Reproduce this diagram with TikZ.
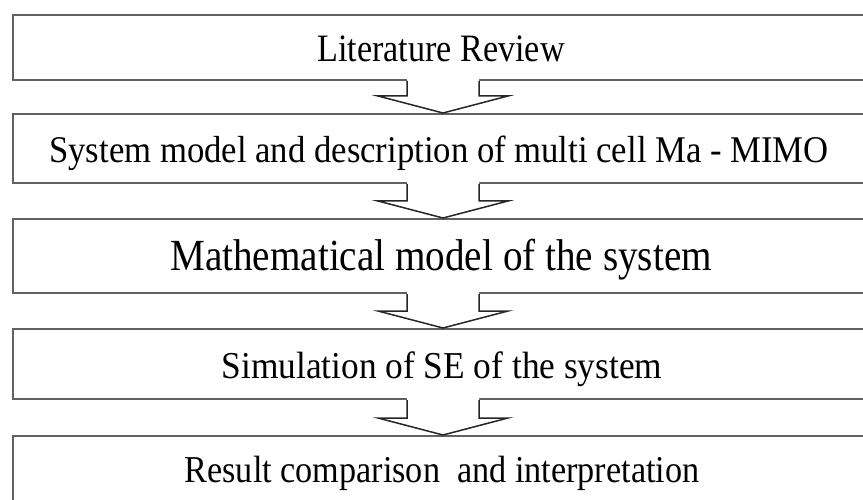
\documentclass[tikz,border=0pt]{standalone}
\usepackage{fontspec}
\setmainfont{Liberation Serif}
\usetikzlibrary{calc}
\tikzset{
  boxnode/.style={draw=black!62, line width=2pt, rectangle, minimum width=854pt, inner sep=0pt, fill=white},
  lbl/.style={anchor=base, inner sep=0pt, text=black},
  arrowline/.style={draw=black!85, line width=1.5pt, line join=miter},
}
\newcommand\lbltext[3]{\fontsize{#1}{#1}\selectfont\scalebox{#2}[1]{#3}}
\newcommand\flowarrow[2]{%
  \path (#1.south) ++(3,0) coordinate (#1s);
  \path (#2.north) ++(3,0) coordinate (#2n);
  \fill[white] ($(#1s)+(-36,-2)$) -- ($(#2n)+(-36,-17)$) -- ($(#2n)+(-65,-17)$) -- (#2n)
     -- ($(#2n)+(65,-17)$) -- ($(#2n)+(36,-17)$) -- ($(#1s)+(36,-2)$) -- cycle;
  \draw[arrowline] ($(#1s)+(-36,0)$) -- ($(#2n)+(-36,-17)$) -- ($(#2n)+(-65,-17)$) -- (#2n)
     -- ($(#2n)+(65,-17)$) -- ($(#2n)+(36,-17)$) -- ($(#1s)+(36,0)$);
}
\begin{document}
\begin{tikzpicture}[x=1pt,y=-1pt]
\useasboundingbox (0,0) rectangle (863,500);
\clip (0,0) rectangle (863,500);
\fill[white] (0,0) rectangle (863,500);
\node[boxnode, minimum height=65pt] (b1) at (440,47.5) {};
\node[boxnode, minimum height=69pt] (b2) at (440,148.5) {};
\node[boxnode, minimum height=74pt] (b3) at (440,256) {};
\node[boxnode, minimum height=70pt] (b4) at (440,364) {};
\node[boxnode, minimum height=76pt] (b5) at (440,474) {};
\flowarrow{b1}{b2}
\flowarrow{b2}{b3}
\flowarrow{b3}{b4}
\flowarrow{b4}{b5}
\node[lbl] (t1) at (441,62) {\lbltext{38.8}{0.88}{Literature Review}};
\node[lbl] (t2) at (439,163) {\lbltext{37.7}{0.92}{System model and description of multi cell Ma - MIMO}};
\node[lbl] (t3) at (441,270.5) {\lbltext{44.5}{0.88}{Mathematical model of the system}};
\node[lbl] (t4) at (442,378) {\lbltext{38}{0.93}{Simulation of SE of the system}};
\node[lbl] (t5) at (442,482) {\lbltext{38}{0.9}{Result comparison\ \ and interpretation}};
\end{tikzpicture}
\end{document}
